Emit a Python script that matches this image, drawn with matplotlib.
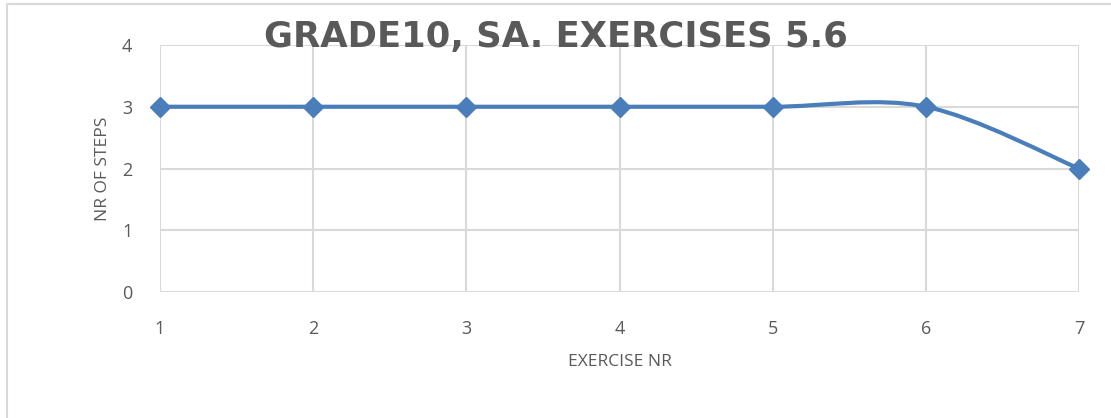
import matplotlib
matplotlib.use("Agg")
import matplotlib.pyplot as plt
from matplotlib.path import Path
from matplotlib.patches import PathPatch, Rectangle
import numpy as np

exercise_nr = [1, 2, 3, 4, 5, 6, 7]
nr_of_steps = [3, 3, 3, 3, 3, 3, 2]
y_ticks = [0, 1, 2, 3, 4]

title = "GRADE10, SA. EXERCISES 5.6"
x_label = "EXERCISE NR"
y_label = "NR OF STEPS"

line_color = "#4a7ebb"
grid_color = "#d9d9d9"
text_color = "#595959"

plt.rcParams['font.family'] = ['Open Sans', 'DejaVu Sans']

fig = plt.figure(figsize=(11.11, 4.18), dpi=100)
ax = fig.add_axes([160 / 1111, 1 - 292 / 418, (1079 - 160) / 1111, (292 - 45) / 418])

# outer chart border, like the Excel chart area
fig.patches.append(Rectangle((7 / 1111, -0.05), 1.2, 1 - 4 / 418 + 0.05,
                             transform=fig.transFigure, fill=False,
                             edgecolor=grid_color, lw=1.5))

# Excel-style smoothed line: cubic Bezier through the points
pts = np.column_stack([exercise_nr, nr_of_steps]).astype(float)
verts = [tuple(pts[0])]
codes = [Path.MOVETO]
n = len(pts)
for i in range(n - 1):
    p0 = pts[i - 1] if i > 0 else pts[i]
    p1 = pts[i]
    p2 = pts[i + 1]
    p3 = pts[i + 2] if i + 2 < n else pts[i + 1]
    c1 = p1 + (p2 - p0) / 6
    c2 = p2 - (p3 - p1) / 6
    verts += [tuple(c1), tuple(c2), tuple(p2)]
    codes += [Path.CURVE4] * 3
ax.add_patch(PathPatch(Path(verts, codes), fill=False, edgecolor=line_color,
                       lw=3, capstyle='round', joinstyle='round', zorder=3))
ax.plot(exercise_nr, nr_of_steps, linestyle='none', marker='D', markersize=10,
        color=line_color, zorder=4, clip_on=False)

ax.set_xlim(1, 7)
ax.set_ylim(0, 4)
ax.set_xticks(exercise_nr)
ax.set_yticks(y_ticks)
ax.grid(True, color=grid_color, lw=1.5)
ax.set_axisbelow(True)
for s in ax.spines.values():
    s.set_visible(False)
ax.tick_params(length=0, labelsize=13, labelcolor=text_color)
ax.tick_params(axis='x', pad=20)
ax.tick_params(axis='y', pad=20)

ax.set_xlabel(x_label, fontsize=12.5, color=text_color, labelpad=12)
ax.set_ylabel(y_label, fontsize=12.5, color=text_color, labelpad=8)

fig.text(0.5, 1 - 37 / 418, title, ha='center', va='center',
         fontsize=25.5, fontweight='bold', color=text_color,
         family=['DejaVu Sans'])

plt.savefig("out.png", dpi=100)
